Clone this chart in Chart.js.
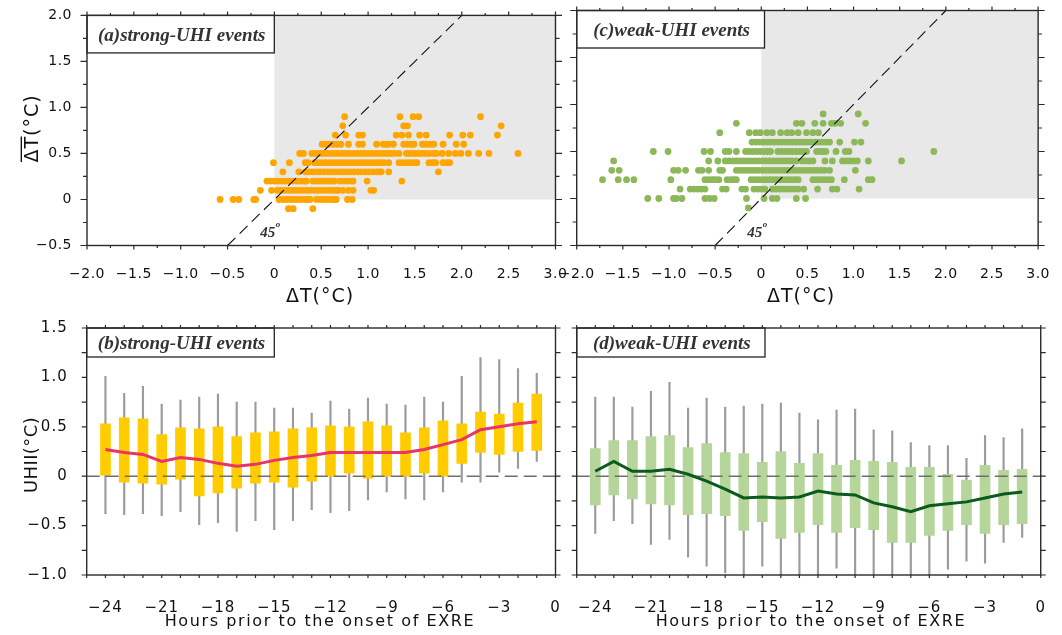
<!DOCTYPE html>
<html><head><meta charset="utf-8">
<script src="https://cdn.jsdelivr.net/npm/chart.js@4.4.1/dist/chart.umd.min.js"></script>
<style>
html,body{margin:0;padding:0;background:#fff;}
#wrap{position:relative;width:1062px;height:635px;overflow:hidden;background:#fff;}
canvas{position:absolute;left:0;top:0;}
</style></head><body><div id="wrap">
<canvas id="ca" width="1062" height="635"></canvas>
<canvas id="cc" width="1062" height="635"></canvas>
<canvas id="cb" width="1062" height="635"></canvas>
<canvas id="cd" width="1062" height="635"></canvas>
</div>
<script>
// ---------------- DATA ----------------
// Scatter rows: ΔT-bar value of each row and the ΔT values of the dots on it
const rowDTbar = [0.9, 0.8, 0.7, 0.6, 0.5, 0.4, 0.3, 0.2, 0.1, 0, -0.1];

// (a) strong-UHI events
const strong_09 = [0.75, 1.34, 1.48, 1.54, 2.20];
const strong_08 = [0.73, 1.38, 1.42, 2.42];
const strong_07 = [0.65, 0.76, 0.90, 0.94, 1.30, 1.36, 1.43, 1.55, 1.62, 1.87, 2.01, 2.09, 2.38];
const strong_06 = [0.51, 0.55, 0.59, 0.63, 0.67, 0.71, 0.79, 0.90, 0.94, 1.09, 1.16, 1.19, 1.22, 1.27, 1.38, 1.42, 1.46, 1.49, 1.58, 1.62, 1.66, 1.70, 1.80, 1.94, 2.02];
const strong_05 = [0.27, 0.31, 0.40, 0.44, 0.48, 0.52, 0.56, 0.60, 0.64, 0.68, 0.72, 0.76, 0.80, 0.84, 0.88, 0.92, 0.96, 1.00, 1.04, 1.08, 1.12, 1.16, 1.20, 1.24, 1.28, 1.33, 1.41, 1.45, 1.49, 1.53, 1.57, 1.61, 1.65, 1.70, 1.73, 1.79, 1.86, 1.93, 1.99, 2.07, 2.18, 2.29, 2.60];
const strong_04 = [-0.01, 0.16, 0.33, 0.36, 0.43, 0.47, 0.51, 0.55, 0.59, 0.63, 0.67, 0.71, 0.75, 0.79, 0.83, 0.87, 0.91, 0.95, 0.99, 1.03, 1.07, 1.11, 1.14, 1.17, 1.22, 1.33, 1.37, 1.41, 1.45, 1.49, 1.52, 1.65, 1.69, 1.72, 1.80, 1.84, 1.87];
const strong_03 = [0.09, 0.26, 0.33, 0.37, 0.41, 0.45, 0.49, 0.53, 0.57, 0.61, 0.65, 0.69, 0.73, 0.77, 0.81, 0.85, 0.89, 0.93, 0.97, 1.01, 1.05, 1.09, 1.12, 1.14, 1.22, 1.75];
const strong_02 = [-0.08, -0.04, 0.00, 0.04, 0.08, 0.12, 0.16, 0.20, 0.24, 0.28, 0.32, 0.34, 0.41, 0.45, 0.49, 0.53, 0.57, 0.61, 0.64, 0.70, 0.74, 0.78, 0.82, 0.84, 0.99, 1.36];
const strong_01 = [-0.15, -0.03, 0.03, 0.07, 0.11, 0.15, 0.19, 0.23, 0.27, 0.31, 0.35, 0.39, 0.43, 0.47, 0.51, 0.55, 0.59, 0.63, 0.66, 0.68, 0.73, 0.79, 0.84, 1.03, 1.06];
const strong_00 = [-0.58, -0.44, -0.38, -0.22, -0.20, 0.05, 0.09, 0.13, 0.17, 0.21, 0.25, 0.29, 0.33, 0.36, 0.38, 0.45, 0.49, 0.53, 0.57, 0.61, 0.64, 0.66, 0.78, 0.83];
const strong_m01 = [0.15, 0.20, 0.41];

// (c) weak-UHI events
const weak_09 = [0.67, 1.05];
const weak_08 = [-0.27, 0.38, 0.44, 0.58, 0.67, 0.76, 0.80, 0.86, 1.13];
const weak_07 = [-0.45, -0.13, -0.06, -0.01, 0.06, 0.12, 0.21, 0.28, 0.33, 0.40, 0.49, 0.56, 0.62];
const weak_06 = [-0.10, -0.06, -0.02, 0.02, 0.06, 0.10, 0.14, 0.18, 0.22, 0.26, 0.30, 0.34, 0.38, 0.42, 0.46, 0.50, 0.54, 0.58, 0.62, 0.66, 0.70, 0.74, 0.85, 1.01, 1.08];
const weak_05 = [-1.17, -1.01, -0.62, -0.55, -0.39, -0.35, -0.27, -0.17, -0.13, -0.09, -0.05, -0.01, 0.03, 0.07, 0.10, 0.18, 0.22, 0.26, 0.30, 0.34, 0.38, 0.42, 0.46, 0.49, 0.60, 0.64, 0.67, 0.70, 0.81, 0.91, 0.95, 1.87];
const weak_04 = [-1.60, -0.57, -0.47, -0.39, -0.35, -0.31, -0.27, -0.23, -0.19, -0.15, -0.11, -0.07, -0.03, 0.01, 0.05, 0.09, 0.13, 0.17, 0.21, 0.25, 0.29, 0.33, 0.38, 0.44, 0.48, 0.52, 0.56, 0.69, 0.77, 0.88, 0.92, 0.96, 1.00, 1.04, 1.16, 1.52];
const weak_03 = [-1.62, -1.54, -0.95, -0.90, -0.82, -0.68, -0.64, -0.57, -0.45, -0.42, -0.27, -0.23, -0.19, -0.15, -0.11, -0.07, -0.03, 0.01, 0.05, 0.09, 0.13, 0.17, 0.21, 0.25, 0.29, 0.33, 0.37, 0.41, 0.45, 0.49, 0.53, 0.57, 0.61, 0.65, 0.69, 0.74, 1.02];
const weak_02 = [-1.72, -1.55, -1.46, -1.38, -0.98, -0.61, -0.57, -0.53, -0.50, -0.46, -0.37, -0.33, -0.30, -0.27, -0.11, -0.07, -0.03, 0.01, 0.05, 0.09, 0.13, 0.17, 0.21, 0.25, 0.29, 0.33, 0.37, 0.40, 0.56, 0.60, 0.64, 0.68, 0.72, 0.76, 0.90, 1.16, 1.20];
const weak_01 = [-0.88, -0.77, -0.73, -0.69, -0.65, -0.61, -0.42, -0.38, -0.21, -0.17, -0.08, -0.04, 0.00, 0.04, 0.12, 0.16, 0.20, 0.24, 0.28, 0.32, 0.36, 0.40, 0.46, 0.61, 0.77, 0.82, 1.06];
const weak_00 = [-1.23, -1.11, -0.95, -0.92, -0.86, -0.61, -0.56, -0.51, -0.16, 0.03, 0.12, 0.17, 0.38, 0.48];
const weak_m01 = [-0.14];

// 45° reference line
const diagX = [-0.5, 2.0];
const diagY = [-0.5, 2.0];

// Box plots: hours prior to onset
const hours = [-24, -23, -22, -21, -20, -19, -18, -17, -16, -15, -14, -13, -12, -11, -10, -9, -8, -7, -6, -5, -4, -3, -2, -1];
// (b) strong-UHI
const strongWhiskHi = [1.01, 0.84, 0.91, 0.73, 0.77, 0.80, 0.83, 0.75, 0.75, 0.69, 0.69, 0.64, 0.76, 0.68, 0.79, 0.73, 0.72, 0.80, 0.75, 1.01, 1.20, 1.18, 1.09, 1.04];
const strongBoxHi   = [0.53, 0.59, 0.58, 0.42, 0.49, 0.48, 0.50, 0.40, 0.44, 0.45, 0.48, 0.49, 0.51, 0.50, 0.55, 0.51, 0.44, 0.49, 0.56, 0.53, 0.65, 0.63, 0.74, 0.83];
const strongBoxLo   = [0.01, -0.06, -0.07, -0.08, -0.03, -0.20, -0.17, -0.12, -0.07, -0.06, -0.11, -0.05, 0.00, 0.03, -0.02, 0.00, 0.00, 0.03, 0.00, 0.13, 0.24, 0.22, 0.25, 0.26];
const strongWhiskLo = [-0.38, -0.39, -0.38, -0.40, -0.36, -0.49, -0.47, -0.56, -0.45, -0.54, -0.45, -0.34, -0.37, -0.35, -0.24, -0.16, -0.23, -0.24, -0.16, -0.06, -0.06, 0.04, 0.08, 0.15];
const strongMean    = [0.27, 0.24, 0.22, 0.15, 0.19, 0.17, 0.13, 0.10, 0.12, 0.16, 0.19, 0.21, 0.24, 0.24, 0.24, 0.24, 0.24, 0.27, 0.32, 0.37, 0.47, 0.50, 0.53, 0.55];
// (d) weak-UHI
const weakWhiskHi = [0.80, 0.80, 0.70, 0.86, 0.95, 0.69, 0.79, 0.70, 0.71, 0.73, 0.74, 0.64, 0.57, 0.67, 0.68, 0.47, 0.46, 0.34, 0.31, 0.31, 0.18, 0.41, 0.39, 0.48];
const weakBoxHi   = [0.28, 0.36, 0.36, 0.40, 0.41, 0.29, 0.33, 0.24, 0.23, 0.14, 0.25, 0.13, 0.23, 0.11, 0.16, 0.15, 0.14, 0.09, 0.09, 0.02, -0.04, 0.11, 0.06, 0.07];
const weakBoxLo   = [-0.29, -0.19, -0.23, -0.28, -0.29, -0.39, -0.38, -0.40, -0.55, -0.46, -0.63, -0.57, -0.49, -0.57, -0.52, -0.54, -0.67, -0.67, -0.60, -0.55, -0.49, -0.58, -0.49, -0.48];
const weakWhiskLo = [-0.58, -0.45, -0.48, -0.69, -0.64, -0.82, -0.91, -0.98, -1.0, -0.91, -1.0, -1.0, -1.0, -0.93, -1.0, -1.0, -1.0, -1.0, -1.0, -0.94, -0.86, -0.88, -0.67, -0.62];
const weakMean    = [0.05, 0.15, 0.05, 0.05, 0.07, 0.02, -0.05, -0.13, -0.22, -0.21, -0.22, -0.21, -0.15, -0.18, -0.19, -0.27, -0.31, -0.36, -0.30, -0.28, -0.26, -0.22, -0.18, -0.16];
const zeroX = [-25, 0];

// Tick labels
const scatterXTicks = [-2, -1.5, -1, -0.5, 0, 0.5, 1, 1.5, 2, 2.5, 3];
const scatterYTicks = [-0.5, 0, 0.5, 1, 1.5, 2];
const hourTicks = [-24, -21, -18, -15, -12, -9, -6, -3, 0];
const uhiiTicks = [-1, -0.5, 0, 0.5, 1, 1.5];

// ---------------- HELPERS ----------------
const strongRows = [strong_09, strong_08, strong_07, strong_06, strong_05, strong_04, strong_03, strong_02, strong_01, strong_00, strong_m01];
const weakRows = [weak_09, weak_08, weak_07, weak_06, weak_05, weak_04, weak_03, weak_02, weak_01, weak_00, weak_m01];
function rowsToPoints(rows) {
  const pts = [];
  rows.forEach((xs, i) => xs.forEach(x => pts.push({x: x, y: rowDTbar[i]})));
  return pts;
}
const fmtDec = v => v === 0 ? '0' : (v < 0 ? '\u2212' : '') + Math.abs(v).toFixed(1);
const fmtInt = v => v === 0 ? '0' : (v < 0 ? '\u2212' : '') + Math.abs(v);

const FONT = '"DejaVu Sans", "Liberation Sans", sans-serif';
const SERIF = '"Liberation Serif", "DejaVu Serif", serif';
const W = 1062, H = 635;

function ticksFrom(vals) { return s => { s.ticks = vals.map(v => ({value: v})); }; }

const panelPlugin = {
  id: 'panel',
  beforeUpdate(chart) { chart.ctx.letterSpacing = chart.options.plugins.panel.tickSpacing; },
  beforeDraw(chart) { chart.ctx.letterSpacing = chart.options.plugins.panel.tickSpacing; },
  beforeDatasetsDraw(chart, args, o) {
    if (!o.shade) return;
    const {ctx, chartArea: a, scales: {x, y}} = chart;
    ctx.save();
    ctx.fillStyle = '#e8e8e8';
    const px = x.getPixelForValue(0), py = y.getPixelForValue(0);
    ctx.fillRect(px, a.top, a.right - px, py - a.top);
    ctx.restore();
  },
  afterDatasetsDraw(chart, args, o) {
    const {ctx, chartArea: a, scales: {x, y}} = chart;
    ctx.save();
    ctx.letterSpacing = '0px';
    if (o.note) {
      const px = x.getPixelForValue(o.note.x), py = y.getPixelForValue(o.note.y);
      ctx.fillStyle = '#333';
      ctx.textAlign = 'left'; ctx.textBaseline = 'alphabetic';
      ctx.font = 'italic bold 15px ' + SERIF;
      ctx.fillText('45', px, py);
      const w = ctx.measureText('45').width;
      ctx.font = 'italic bold 9px ' + SERIF;
      ctx.fillText('o', px + w + 0.5, py - 9.5);
    }
    if (o.label) {
      const b = o.label;
      ctx.fillStyle = '#fff';
      ctx.fillRect(a.left, a.top, b.w, b.h);
      ctx.strokeStyle = '#222'; ctx.lineWidth = 1.3;
      ctx.strokeRect(a.left, a.top, b.w, b.h);
      ctx.font = 'italic bold 19px ' + SERIF;
      ctx.fillStyle = '#333';
      ctx.textAlign = 'center'; ctx.textBaseline = 'alphabetic';
      ctx.fillText(b.text, a.left + b.w / 2 + 1, a.top + b.base);
    }
    ctx.restore();
  },
  afterDraw(chart, args, o) {
    const {ctx, chartArea: a, scales: {x, y}} = chart;
    ctx.save();
    ctx.strokeStyle = '#2a2a2a';
    ctx.lineWidth = 1.4;
    ctx.strokeRect(a.left, a.top, a.right - a.left, a.bottom - a.top);
    ctx.lineWidth = 1.2;
    ctx.beginPath();
    const isMaj = (v, st) => Math.abs(v / st - Math.round(v / st)) < 1e-6;
    for (let v = x.min; v <= x.max + 1e-9; v += o.xStep) {
      const p = x.getPixelForValue(v);
      const len = isMaj(v, o.xMajor) ? o.xMajLen : o.xMinLen;
      ctx.moveTo(p, a.bottom); ctx.lineTo(p, a.bottom + len);
      ctx.moveTo(p, a.top); ctx.lineTo(p, a.top - len);
    }
    for (let v = y.min; v <= y.max + 1e-9; v += o.yStep) {
      const p = y.getPixelForValue(v);
      const len = isMaj(v, o.yMajor) ? o.yMajLen : o.yMinLen;
      ctx.moveTo(a.left, p); ctx.lineTo(a.left - len, p);
      ctx.moveTo(a.right, p); ctx.lineTo(a.right + len, p);
    }
    ctx.stroke();
    // axis titles
    (o.titles || []).forEach(t => {
      ctx.save();
      ctx.fillStyle = '#111';
      ctx.font = t.size + 'px ' + FONT;
      ctx.letterSpacing = t.spacing + 'px';
      ctx.textAlign = 'center'; ctx.textBaseline = 'middle';
      ctx.translate(t.x, t.y);
      if (t.rot) ctx.rotate(-Math.PI / 2);
      ctx.fillText(t.text, 0, 0);
      if (t.over) {
        const wAll = ctx.measureText(t.text).width;
        const wOver = ctx.measureText(t.text.substring(0, t.over)).width - t.spacing;
        const sx = -wAll / 2 + 0.5;
        const oy = -(0.43 * t.size + 3.5);
        ctx.strokeStyle = '#111'; ctx.lineWidth = 1.4;
        ctx.beginPath(); ctx.moveTo(sx, oy); ctx.lineTo(sx + wOver, oy); ctx.stroke();
      }
      ctx.restore();
    });
    ctx.restore();
  }
};

function pad(L, T, R, B, yW, xH) {
  return {left: L - yW, top: T, right: W - R, bottom: H - B - xH};
}

function scatterChart(id, pts, color, area, showY, label, titles) {
  const [L, T, R, B] = area;
  const yW = showY ? L : 20;
  return new Chart(document.getElementById(id), {
    type: 'scatter',
    data: {
      datasets: [
        {type: 'line', data: diagX.map((v, i) => ({x: v, y: diagY[i]})), borderColor: '#111', borderWidth: 1.1,
         borderDash: [11, 6], pointRadius: 0, fill: false, order: 0},
        {data: pts, backgroundColor: color, borderWidth: 0, pointRadius: 3.4, order: 1}
      ]
    },
    options: {
      responsive: false, animation: false, events: [], devicePixelRatio: 1,
      layout: {padding: pad(L, T, R, B, yW, 40)},
      plugins: {legend: {display: false}, tooltip: {enabled: false},
        panel: {tickSpacing: '0.5px', shade: true, note: {x: -0.152, y: -0.405}, label: label, titles: titles,
          xStep: 0.25, xMajor: 0.5, xMajLen: 4, xMinLen: 2.5, yStep: 0.25, yMajor: 0.5, yMajLen: 6.5, yMinLen: 4}},
      scales: {
        x: {type: 'linear', min: -2, max: 3, grid: {display: false}, border: {display: false},
            afterBuildTicks: ticksFrom(scatterXTicks), afterFit: s => { s.height = 40; },
            ticks: {autoSkip: false, maxRotation: 0, padding: 12, color: '#111', font: {family: FONT, size: 14}, callback: v => fmtDec(v)}},
        y: {type: 'linear', min: -0.5, max: 2, grid: {display: false}, border: {display: false},
            afterBuildTicks: ticksFrom(scatterYTicks), afterFit: s => { s.width = yW; },
            ticks: {display: showY, autoSkip: false, padding: 7, color: '#111', font: {family: FONT, size: 14}, callback: v => fmtDec(v)}}
      }
    },
    plugins: [panelPlugin]
  });
}

function boxChart(id, lo, boxLo, boxHi, hi, mean, boxColor, lineColor, area, showY, label, titles) {
  const [L, T, R, B] = area;
  const yW = showY ? L : 20;
  return new Chart(document.getElementById(id), {
    type: 'bar',
    data: {
      datasets: [
        {type: 'line', data: hours.map((h, i) => ({x: h, y: mean[i]})), borderColor: lineColor, borderWidth: 3,
         pointRadius: 0, fill: false, tension: 0, order: 0},
        {type: 'line', data: zeroX.map(v => ({x: v, y: 0})), borderColor: '#6e6e6e', borderWidth: 1.5,
         borderDash: [13, 6], pointRadius: 0, fill: false, order: 1},
        {data: hours.map((h, i) => ({x: h, y: [boxLo[i], boxHi[i]]})), backgroundColor: boxColor,
         barThickness: 10, grouped: false, borderWidth: 0, order: 2},
        {data: hours.map((h, i) => ({x: h, y: [lo[i], hi[i]]})), backgroundColor: '#9b9b9b',
         barThickness: 1.5, grouped: false, borderWidth: 0, order: 3}
      ]
    },
    options: {
      responsive: false, animation: false, events: [], devicePixelRatio: 1,
      layout: {padding: pad(L, T, R, B, yW, 40)},
      plugins: {legend: {display: false}, tooltip: {enabled: false},
        panel: {tickSpacing: '1px', shade: false, label: label, titles: titles,
          xStep: 1, xMajor: 1, xMajLen: 3, xMinLen: 3, yStep: 0.25, yMajor: 0.25, yMajLen: 5, yMinLen: 5}},
      scales: {
        x: {type: 'linear', min: -25, max: 0, offset: false, grid: {display: false}, border: {display: false},
            afterBuildTicks: ticksFrom(hourTicks), afterFit: s => { s.height = 40; },
            ticks: {autoSkip: false, maxRotation: 0, padding: 16, color: '#111', font: {family: FONT, size: 15}, callback: v => fmtInt(v)}},
        y: {type: 'linear', min: -1, max: 1.5, grid: {display: false}, border: {display: false},
            afterBuildTicks: ticksFrom(uhiiTicks), afterFit: s => { s.width = yW; },
            ticks: {display: showY, autoSkip: false, padding: 11, color: '#111', font: {family: FONT, size: 15}, callback: v => fmtDec(v)}}
      }
    },
    plugins: [panelPlugin]
  });
}

scatterChart('ca', rowsToPoints(strongRows), '#FFA500', [87, 10.5, 555.5, 245.5], true,
  {text: '(a)strong-UHI events', w: 187.3, h: 37.5, base: 25.5},
  [{text: '\u0394T(\u00b0C)', x: 320, y: 297, size: 19, spacing: 1, rot: false},
   {text: '\u0394T(\u00b0C)', x: 33, y: 128.5, size: 19, spacing: 1, rot: true, over: 2}]);
scatterChart('cc', rowsToPoints(weakRows), '#8DB85A', [576.7, 10.5, 1047, 245.5], false,
  {text: '(c)weak-UHI events', w: 187.8, h: 37.5, base: 25.5},
  [{text: '\u0394T(\u00b0C)', x: 801, y: 297, size: 19, spacing: 1, rot: false}]);
boxChart('cb', strongWhiskLo, strongBoxLo, strongBoxHi, strongWhiskHi, strongMean, '#FFCC00', '#E8336B',
  [86.7, 328, 555.5, 575], true,
  {text: '(b)strong-UHI events', w: 187.6, h: 29, base: 21},
  [{text: 'Hours prior to the onset of EXRE', x: 320, y: 622, size: 16, spacing: 1.6, rot: false},
   {text: 'UHII(\u00b0C)', x: 32, y: 455, size: 18, spacing: 0.4, rot: true}]);
boxChart('cd', weakWhiskLo, weakBoxLo, weakBoxHi, weakWhiskHi, weakMean, '#B5D59A', '#0B5A1E',
  [576.7, 328, 1046.7, 575], false,
  {text: '(d)weak-UHI events', w: 188.3, h: 29, base: 21},
  [{text: 'Hours prior to the onset of EXRE', x: 811, y: 622, size: 16, spacing: 1.6, rot: false}]);
</script>
</body></html>
